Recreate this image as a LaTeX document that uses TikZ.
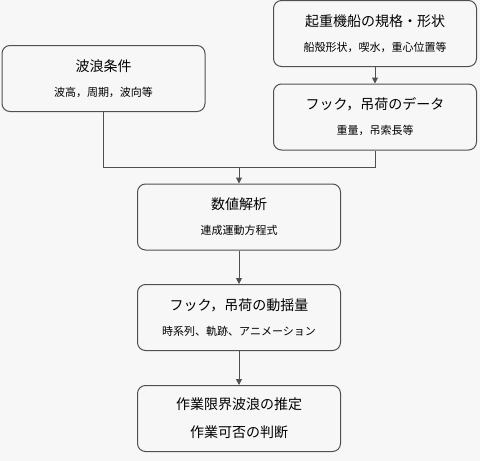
\documentclass[tikz,border=0pt]{standalone}
\usepackage{fontspec}
\setmainfont{Noto Sans CJK JP}
\usetikzlibrary{arrows.meta}
\definecolor{bgc}{HTML}{F7F7F7}
\definecolor{edgec}{HTML}{505050}
\newcommand{\ttl}{\fontsize{14}{16}\selectfont}
\newcommand{\sbt}{\fontsize{11}{13}\selectfont}
\begin{document}
\begin{tikzpicture}[x=1pt,y=1pt,
 box/.style={draw=edgec, line width=1pt, rounded corners=8pt, minimum width=203pt, minimum height=66pt, align=center, inner sep=0pt, text=black},
 conn/.style={draw=edgec, line width=1pt},
 arr/.style={conn, -{Triangle[length=6pt,width=6pt]}}]
\fill[bgc] (0,0) rectangle (480,-461);
\useasboundingbox (0,0) rectangle (480,-461);
\node[box] (wave) at (103.5,-78.5) {{\ttl 波浪条件}\\[13pt]{\sbt 波高，周期，波向等}};
\node[box] (ship) at (375,-33.5) {{\ttl 起重機船の規格・形状}\\[13pt]{\sbt 船殻形状，喫水，重心位置等}};
\node[box] (hook) at (375,-117) {{\ttl フック，吊荷のデータ}\\[13pt]{\sbt 重量，吊索長等}};
\node[box] (num) at (239,-217) {{\ttl 数値解析}\\[13pt]{\sbt 連成運動方程式}};
\node[box] (mot) at (239,-317.5) {{\ttl フック，吊荷の動揺量}\\[13pt]{\sbt 時系列、軌跡、アニメーション}};
\node[box] (lim) at (239,-418.5) {{\ttl 作業限界波浪の推定}\\[14pt]{\ttl 作業可否の判断}};
\coordinate (jl) at (103.5,-167);
\coordinate (jr) at (375,-167);
\coordinate (jm) at (239,-167);
\draw[arr] (ship) -- (hook);
\draw[conn] (wave.south) -- (jl) -- (jr) -- (hook.south);
\draw[arr] (jm) -- (num.north);
\draw[arr] (num) -- (mot);
\draw[arr] (mot) -- (lim);
\end{tikzpicture}
\end{document}
